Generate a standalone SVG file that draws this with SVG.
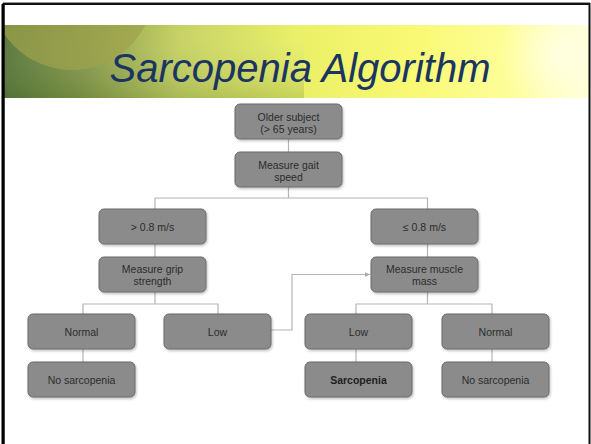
<svg xmlns="http://www.w3.org/2000/svg" width="591" height="444" viewBox="0 0 591 444">
<defs>
<linearGradient id="banner" x1="0" y1="0" x2="1" y2="0">
<stop offset="0" stop-color="#58763a"/>
<stop offset="0.14" stop-color="#86994a"/>
<stop offset="0.3" stop-color="#c6d262"/>
<stop offset="0.5" stop-color="#eaf066"/>
<stop offset="0.7" stop-color="#f9f974"/>
<stop offset="0.88" stop-color="#fefe9e"/>
<stop offset="1" stop-color="#ffffd6"/>
</linearGradient>
<linearGradient id="shade" x1="0" y1="0" x2="0" y2="1">
<stop offset="0" stop-color="#ffffff" stop-opacity="0"/>
<stop offset="1" stop-color="#3a5a20" stop-opacity="0.2"/>
</linearGradient>
<radialGradient id="glow" cx="0.5" cy="0.5" r="0.5">
<stop offset="0" stop-color="#fffff0" stop-opacity="0.7"/>
<stop offset="1" stop-color="#fffff0" stop-opacity="0"/>
</radialGradient>
<clipPath id="bclip"><rect x="4" y="25" width="586" height="73"/></clipPath>
<filter id="sh" x="-10%" y="-10%" width="125%" height="135%">
<feDropShadow dx="1" dy="1.5" stdDeviation="1" flood-color="#000" flood-opacity="0.25"/>
</filter>
<marker id="arr" viewBox="0 0 10 10" refX="9" refY="5" markerWidth="5" markerHeight="5" orient="auto">
<path d="M0,1 L9,5 L0,9 z" fill="#a8a8a8"/>
</marker>
<style>
.box{fill:#8b8b8b;stroke:#6a6a6a;stroke-width:1;filter:url(#sh)}
.t{font-family:"Liberation Sans",Arial,sans-serif;font-size:10.5px;fill:#2b2b2b;text-anchor:middle}
.b{font-weight:bold;fill:#1e1e1e}
.c{fill:none;stroke:#b4b4b4;stroke-width:1.2}
</style>
</defs>
<rect width="591" height="444" fill="#ffffff"/>
<g id="banner-bg" clip-path="url(#bclip)">
<rect x="4" y="25" width="586" height="73" fill="url(#banner)"/>
<rect x="4" y="25" width="300" height="73" fill="url(#shade)"/>
<circle cx="72" cy="-12" r="82" fill="#9ea24c" opacity="0.7"/>
<circle cx="560" cy="55" r="60" fill="url(#glow)"/>
</g>
<text id="title" x="300" y="82" font-family="'Liberation Sans',Arial,sans-serif" font-size="40" font-style="italic" fill="#1b3562" text-anchor="middle">Sarcopenia Algorithm</text>
<g id="frame" fill="none">
<path d="M3.5,444 V4 H589.5 V444" stroke="#111" stroke-width="2"/>
<line x1="3" y1="4" x2="3" y2="444" stroke="#000" stroke-width="3"/>
<line x1="3" y1="2.5" x2="590" y2="2.5" stroke="#999" stroke-width="1"/>
</g>
<g id="connectors">
<path class="c" d="M288.5,139 V152"/>
<path class="c" d="M288.5,187 V198 M155,209 V198 H427.5 V209"/>
<path class="c" d="M155,244 V257"/>
<path class="c" d="M427.5,244 V257"/>
<path class="c" d="M155,292 V304 M83,314 V304 H218 V314"/>
<path class="c" d="M427.5,292 V304 M356,314 V304 H492 V314"/>
<path class="c" d="M83,349 V362"/>
<path class="c" d="M356,349 V362"/>
<path class="c" d="M492,349 V362"/>
<path class="c" d="M271,330 H292 V274.5 H370" marker-end="url(#arr)"/>
</g>
<g id="n1"><rect class="box" x="235" y="104" width="107" height="35" rx="5"/><text class="t" x="288.5" y="120.5">Older subject</text><text class="t" x="288.5" y="133">(&gt; 65 years)</text></g>
<g id="n2"><rect class="box" x="235" y="152" width="107" height="35" rx="5"/><text class="t" x="288.5" y="168.5">Measure gait</text><text class="t" x="288.5" y="181">speed</text></g>
<g id="n3"><rect class="box" x="99" y="209" width="107" height="35" rx="5"/><text class="t" x="152.5" y="230.5">&gt; 0.8 m/s</text></g>
<g id="n4"><rect class="box" x="371" y="209" width="107" height="35" rx="5"/><text class="t" x="424.5" y="230.5">≤ 0.8 m/s</text></g>
<g id="n5"><rect class="box" x="99" y="257" width="107" height="35" rx="5"/><text class="t" x="152.5" y="273">Measure grip</text><text class="t" x="152.5" y="285">strength</text></g>
<g id="n6"><rect class="box" x="371" y="257" width="107" height="35" rx="5"/><text class="t" x="424.5" y="273">Measure muscle</text><text class="t" x="424.5" y="285">mass</text></g>
<g id="n7"><rect class="box" x="28" y="314" width="107" height="35" rx="5"/><text class="t" x="81.5" y="335.5">Normal</text></g>
<g id="n8"><rect class="box" x="164" y="314" width="107" height="35" rx="5"/><text class="t" x="217.5" y="335.5">Low</text></g>
<g id="n9"><rect class="box" x="305" y="314" width="107" height="35" rx="5"/><text class="t" x="358.5" y="335.5">Low</text></g>
<g id="n10"><rect class="box" x="442" y="314" width="107" height="35" rx="5"/><text class="t" x="495.5" y="335.5">Normal</text></g>
<g id="n11"><rect class="box" x="28" y="362" width="107" height="35" rx="5"/><text class="t" x="81.5" y="383.5">No sarcopenia</text></g>
<g id="n12"><rect class="box" x="305" y="362" width="107" height="35" rx="5"/><text class="t b" x="358.5" y="383.5">Sarcopenia</text></g>
<g id="n13"><rect class="box" x="442" y="362" width="107" height="35" rx="5"/><text class="t" x="495.5" y="383.5">No sarcopenia</text></g>
</svg>
